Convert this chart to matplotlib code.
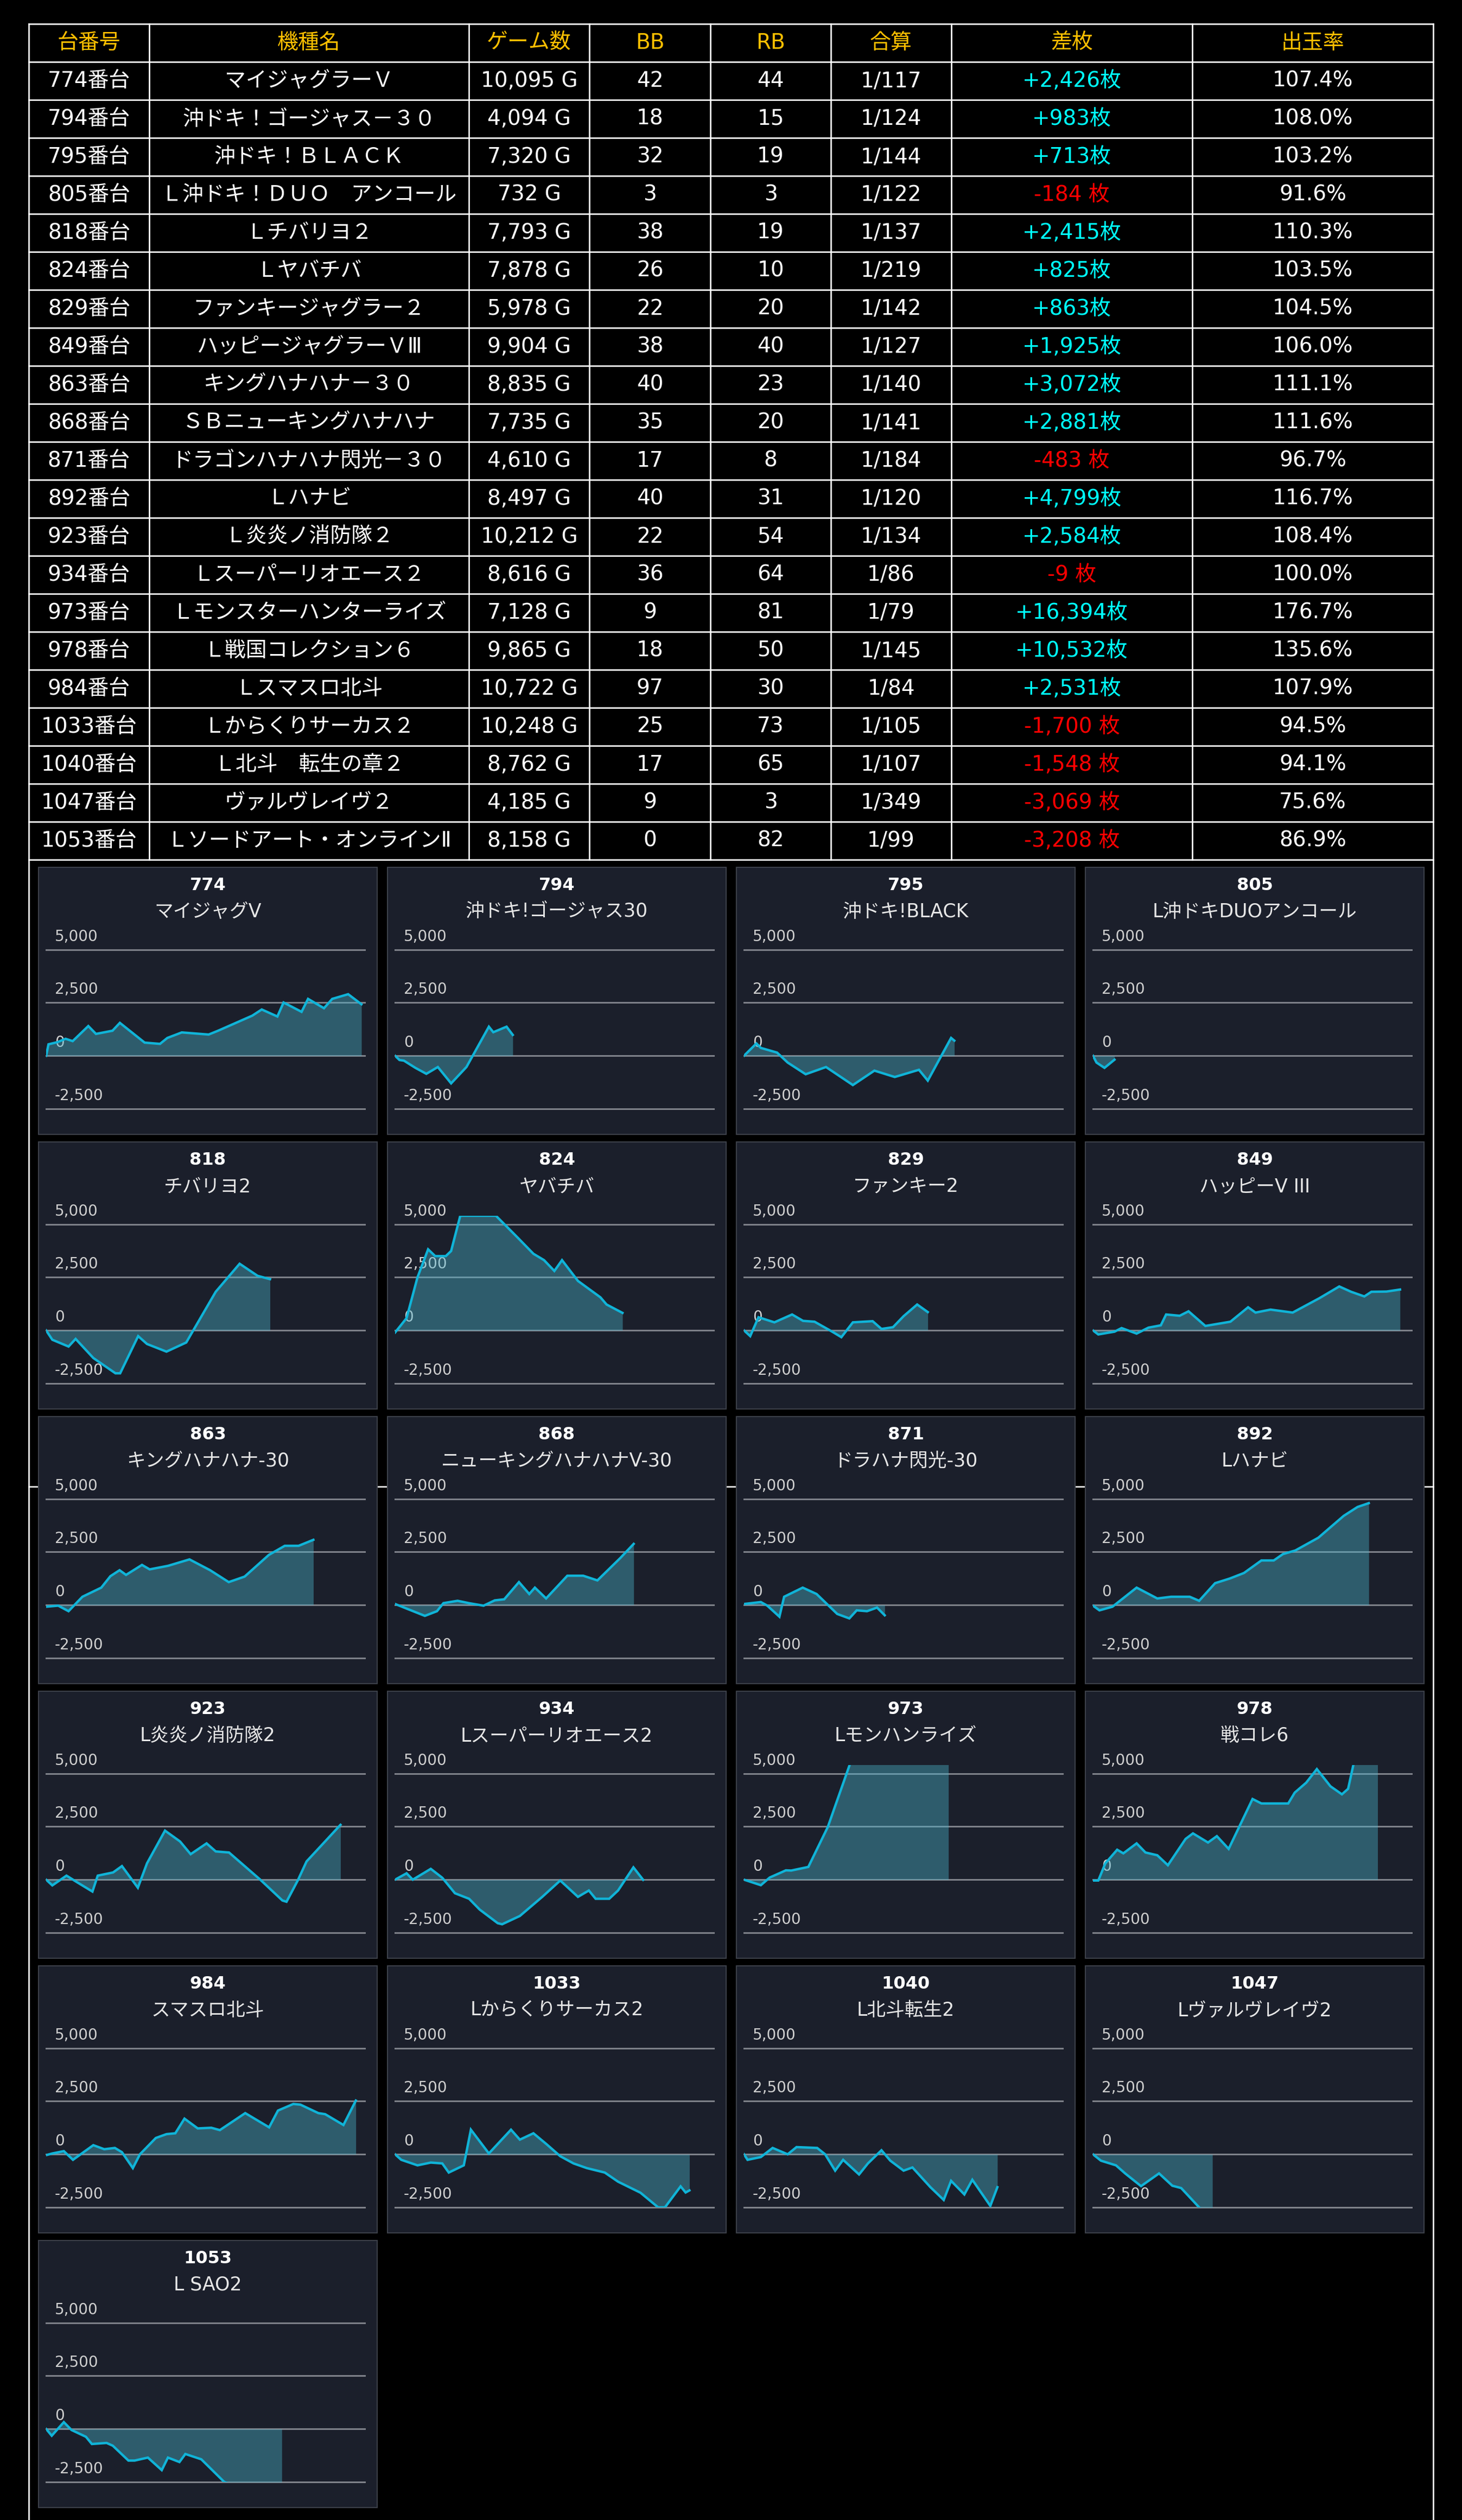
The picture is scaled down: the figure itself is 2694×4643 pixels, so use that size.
import matplotlib
matplotlib.use("Agg")
import matplotlib.pyplot as plt
from matplotlib.patches import Rectangle
from matplotlib.transforms import blended_transform_factory

# Latin text is DejaVu in the original, Japanese falls back to Noto CJK
plt.rcParams['font.family'] = ['DejaVu Sans', 'Noto Sans CJK JP']

# table data
headers = ['台番号', '機種名', 'ゲーム数', 'BB', 'RB', '合算', '差枚', '出玉率']
machine_no = [774, 794, 795, 805, 818, 824, 829, 849, 863, 868, 871,
              892, 923, 934, 973, 978, 984, 1033, 1040, 1047, 1053]
machine_names = ['マイジャグラーＶ', '沖ドキ！ゴージャス－３０', '沖ドキ！ＢＬＡＣＫ',
                 'Ｌ沖ドキ！ＤＵＯ　アンコール', 'Ｌチバリヨ２', 'Ｌヤバチバ',
                 'ファンキージャグラー２', 'ハッピージャグラーＶⅢ', 'キングハナハナ－３０',
                 'ＳＢニューキングハナハナ', 'ドラゴンハナハナ閃光－３０', 'Ｌハナビ',
                 'Ｌ炎炎ノ消防隊２', 'Ｌスーパーリオエース２', 'Ｌモンスターハンターライズ',
                 'Ｌ戦国コレクション６', 'Ｌスマスロ北斗', 'Ｌからくりサーカス２',
                 'Ｌ北斗　転生の章２', 'ヴァルヴレイヴ２', 'Ｌソードアート・オンラインⅡ']
games = [10095, 4094, 7320, 732, 7793, 7878, 5978, 9904, 8835, 7735, 4610,
         8497, 10212, 8616, 7128, 9865, 10722, 10248, 8762, 4185, 8158]
bb = [42, 18, 32, 3, 38, 26, 22, 38, 40, 35, 17, 40, 22, 36, 9, 18, 97, 25, 17, 9, 0]
rb = [44, 15, 19, 3, 19, 10, 20, 40, 23, 20, 8, 31, 54, 64, 81, 50, 30, 73, 65, 3, 82]
combined = [117, 124, 144, 122, 137, 219, 142, 127, 140, 141, 184,
            120, 134, 86, 79, 145, 84, 105, 107, 349, 99]
diff = [2426, 983, 713, -184, 2415, 825, 863, 1925, 3072, 2881, -483,
        4799, 2584, -9, 16394, 10532, 2531, -1700, -1548, -3069, -3208]
payout = [107.4, 108.0, 103.2, 91.6, 110.3, 103.5, 104.5, 106.0, 111.1, 111.6, 96.7,
          116.7, 108.4, 100.0, 176.7, 135.6, 107.9, 94.5, 94.1, 75.6, 86.9]

# graph data: (game, diff)
short_names = ['マイジャグV', '沖ドキ!ゴージャス30', '沖ドキ!BLACK', 'L沖ドキDUOアンコール',
               'チバリヨ2', 'ヤバチバ', 'ファンキー2', 'ハッピーV III',
               'キングハナハナ-30', 'ニューキングハナハナV-30', 'ドラハナ閃光-30', 'Lハナビ',
               'L炎炎ノ消防隊2', 'Lスーパーリオエース2', 'Lモンハンライズ', '戦コレ6',
               'スマスロ北斗', 'Lからくりサーカス2', 'L北斗転生2', 'Lヴァルヴレイヴ2', 'L SAO2']

c774 = [(0, 0), (80, 540), (380, 640), (660, 800), (900, 690), (1430, 1400), (1690, 1030),
        (2250, 1180), (2500, 1550), (3340, 620), (3860, 560), (4110, 840), (4600, 1100),
        (5510, 1000), (5830, 1180), (6990, 1890), (7310, 2180), (7840, 1850), (8050, 2510),
        (8660, 2070), (8880, 2680), (9420, 2240), (9700, 2680), (10240, 2900), (10690, 2426)]
c794 = [(0, 0), (150, -200), (300, -230), (690, -570), (1060, -850), (1450, -530),
        (1900, -1300), (2420, -530), (3180, 1370), (3330, 1110), (3780, 1370), (3990, 983)]
c795 = [(0, 0), (420, 580), (570, 370), (1120, 150), (1480, -320), (2090, -870), (2780, -530),
        (3690, -1380), (4420, -700), (5110, -1000), (5930, -660), (6230, -1170), (7020, 840),
        (7130, 713)]
c805 = [(0, 0), (120, -320), (390, -570), (730, -184)]
c818 = [(0, 0), (210, -440), (760, -760), (1000, -400), (1600, -1300), (2350, -2020),
        (2510, -2020), (3120, -270), (3420, -640), (4080, -1000), (4750, -570), (5750, 1820),
        (6560, 3140), (7170, 2570), (7590, 2415)]
c824 = [(0, -100), (390, 580), (760, 2500), (1120, 3820), (1360, 3500), (1720, 3500),
        (1900, 3740), (2210, 5400), (2800, 5400), (3420, 5400), (4150, 4380), (4690, 3610),
        (5050, 3310), (5400, 2800), (5660, 3310), (6200, 2330), (6960, 1560), (7170, 1220),
        (7710, 825)]
c829 = [(0, 0), (210, -270), (490, 620), (1030, 380), (1630, 750), (2000, 450), (2390, 410),
        (2990, -60), (3300, -320), (3690, 380), (4360, 435), (4660, 70), (5050, 150),
        (5410, 670), (5870, 1220), (6230, 863)]
c849 = [(0, 0), (180, -190), (730, -60), (970, 110), (1480, -150), (1880, 130), (2300, 240),
        (2480, 750), (2940, 690), (3240, 900), (3810, 210), (4660, 410), (5260, 1090),
        (5510, 840), (6020, 980), (6770, 840), (7680, 1520), (8350, 2070), (8750, 1820),
        (9200, 1600), (9440, 1820), (9950, 1830), (10410, 1925)]
c863 = [(0, -80), (410, -30), (760, -290), (1230, 390), (1870, 820), (2180, 1360),
        (2490, 1640), (2710, 1420), (3250, 1890), (3510, 1680), (4140, 1850), (4860, 2150),
        (5560, 1640), (6190, 1080), (6730, 1340), (7550, 2360), (8090, 2790), (8560, 2790),
        (9060, 3072)]
c868 = [(0, 50), (540, -250), (1010, -510), (1420, -290), (1640, 90), (2120, 200), (2500, 90),
        (3000, -30), (3380, 220), (3700, 270), (4200, 1080), (4550, 520), (4740, 820),
        (5120, 310), (5840, 1380), (6380, 1380), (6860, 1160), (7640, 2220), (8090, 2881)]
c871 = [(0, 50), (570, 140), (790, -30), (1200, -550), (1360, 390), (1990, 820), (2460, 520),
        (3160, -420), (3570, -630), (3820, -250), (4170, -290), (4510, -120), (4770, -483)]
c892 = [(0, -30), (220, -250), (660, -80), (1480, 820), (2180, 310), (2650, 390), (3280, 390),
        (3600, 200), (4140, 1030), (4640, 1250), (5120, 1510), (5710, 2100), (6130, 2100),
        (6440, 2400), (6860, 2570), (7640, 3170), (8500, 4200), (8970, 4620), (9350, 4799)]
c923 = [(0, 0), (210, -270), (690, 190), (1060, -130), (1570, -560), (1750, 190), (2270, 340),
        (2570, 640), (3110, -380), (3420, 770), (4030, 2310), (4540, 1800), (4900, 1200),
        (5440, 1710), (5750, 1330), (6200, 1280), (7260, 0), (8010, -980), (8150, -1040),
        (8530, -40), (8830, 860), (9980, 2584)]
c934 = [(0, 0), (390, 300), (600, 0), (1210, 510), (1600, 90), (2030, -640), (2510, -900),
        (2870, -1410), (3480, -2050), (3630, -2100), (4230, -1710), (4990, -810), (5600, -40),
        (6200, -810), (6570, -510), (6800, -900), (7260, -900), (7560, -510), (8080, 580),
        (8410, -9)]
c973 = [(0, 0), (570, -260), (870, 100), (1420, 440), (1600, 430), (2180, 600), (2840, 2480),
        (3630, 5600), (4500, 8000), (5500, 11000), (6200, 13500), (6930, 16394)]
c978 = [(0, -40), (180, -40), (420, 770), (820, 1410), (1030, 1240), (1480, 1710),
        (1780, 1280), (2180, 1150), (2540, 680), (3140, 1920), (3390, 2180), (3900, 1750),
        (4200, 2050), (4600, 1450), (5410, 3800), (5710, 3590), (6620, 3590), (6840, 4100),
        (7230, 4570), (7590, 5210), (8050, 4400), (8440, 4020), (8650, 4280), (9000, 6500),
        (9650, 10532)]
c984 = [(0, -40), (210, 40), (600, 150), (910, -260), (1600, 430), (1970, 240), (2330, 300),
        (2570, 100), (2940, -650), (3180, 0), (3720, 770), (4080, 950), (4380, 990),
        (4690, 1680), (5140, 1220), (5600, 1250), (5890, 1140), (6750, 1940), (7560, 1270),
        (7860, 2060), (8380, 2370), (8620, 2340), (9230, 1940), (9460, 1890), (10080, 1380),
        (10500, 2531)]
c1033 = [(0, 0), (210, -260), (760, -520), (1210, -390), (1600, -430), (1820, -860),
         (2330, -520), (2570, 1160), (3180, 40), (3930, 1160), (4230, 690), (4690, 990),
         (5140, 470), (5600, -90), (6050, -430), (6500, -650), (7110, -860), (7560, -1290),
         (8320, -1810), (8920, -2500), (9150, -2500), (9680, -1510), (9850, -1800),
         (9980, -1700)]
c1040 = [(0, 0), (120, -260), (570, -130), (970, 300), (1480, 0), (1780, 340), (2480, 300),
         (2750, 0), (3090, -770), (3360, -260), (3900, -950), (4200, -430), (4660, 190),
         (4960, -300), (5410, -770), (5710, -620), (6320, -1550), (6770, -2150), (7020, -1250),
         (7470, -1890), (7740, -1200), (8350, -2430), (8590, -1548)]
c1047 = [(0, 0), (270, -300), (570, -430), (780, -520), (1090, -900), (1630, -1500),
         (2240, -900), (2690, -1480), (2990, -1590), (3600, -2500), (4050, -3069)]
c1053 = [(0, 0), (190, -320), (600, 320), (860, -50), (1350, -370), (1550, -710), (2050, -660),
         (2260, -790), (2790, -1490), (3000, -1490), (3450, -1350), (3920, -1940), (4130, -1350),
         (4520, -1560), (4720, -1180), (5260, -1430), (6040, -2500), (7000, -2950),
         (7990, -3208)]

curves = [c774, c794, c795, c805, c818, c824, c829, c849, c863, c868, c871,
          c892, c923, c934, c973, c978, c984, c1033, c1040, c1047, c1053]
y_ticks = [-2500, 0, 2500, 5000]


W, H = 2694, 4643
fig = plt.figure(figsize=(W / 100, H / 100), dpi=100)
fig.patch.set_facecolor('black')
bg = fig.add_axes([0, 0, 1, 1])
bg.set_xlim(0, W)
bg.set_ylim(H, 0)
bg.axis('off')

# ---- table ----
col_edges = [53, 275, 864, 1086, 1309, 1531, 1753, 2197, 2641]
top, row_h = 44, 70
n_rows = len(machine_no) + 1
bottom = top + row_h * n_rows
lw_tab = 1.9
for i in range(n_rows + 1):
    bg.plot([col_edges[0], col_edges[-1]], [top + i * row_h] * 2, color='white', lw=lw_tab)
for j, x in enumerate(col_edges):
    y_end = H if j in (0, len(col_edges) - 1) else bottom
    bg.plot([x, x], [top, y_end], color='white', lw=lw_tab)
# stray white line behind the charts
bg.plot([col_edges[0], col_edges[-1]], [2739, 2739], color='white', lw=1.8, zorder=0)

fs = 28
centers = [(col_edges[k] + col_edges[k + 1]) / 2 for k in range(len(col_edges) - 1)]
for k, h in enumerate(headers):
    bg.text(centers[k], top + row_h / 2, h, color='#ffc000', fontsize=fs, ha='center', va='center')

for r in range(len(machine_no)):
    yc = top + row_h * (r + 1.5)
    d = diff[r]
    d_txt = f'+{d:,}枚' if d > 0 else f'{d:,} 枚'
    cells = [f'{machine_no[r]}番台', machine_names[r], f'{games[r]:,} G', str(bb[r]), str(rb[r]),
             f'1/{combined[r]}', d_txt, f'{payout[r]:.1f}%']
    for k, t in enumerate(cells):
        col = 'white'
        if k == 6:
            col = '#00ffff' if d > 0 else '#ff0000'
        bg.text(centers[k], yc, t, color=col, fontsize=fs, ha='center', va='center')

# ---- small charts ----
panel_x = [71, 714, 1357, 2000]
panel_y0, panel_pitch = 1598, 506
pw, ph = 624, 492
for i, pts in enumerate(curves):
    px = panel_x[i % 4]
    py = panel_y0 + panel_pitch * (i // 4)
    bg.add_patch(Rectangle((px, py), pw, ph, facecolor='#1b1f2b', edgecolor='#3c4049',
                           lw=1.5, zorder=2))
    bg.text(px + pw / 2, py + 34, str(machine_no[i]), color='white', fontsize=23,
            fontweight='bold', ha='center', va='center', zorder=3)
    bg.text(px + pw / 2, py + 82, short_names[i], color='#e6e6e6', fontsize=25,
            ha='center', va='center', zorder=3)

    ax_l, ax_r = px + 14, px + 601
    ax_t, ax_b = py + 136, py + 445
    ax = fig.add_axes([ax_l / W, 1 - ax_b / H, (ax_r - ax_l) / W, (ax_b - ax_t) / H])
    ax.set_facecolor('none')
    ax.axis('off')
    ax.set_xlim(0, 10800)
    ax.set_ylim(-2500, 5400)
    tr = blended_transform_factory(ax.transAxes, ax.transData)
    for v in y_ticks:
        ax.axhline(v, color='#7e8189', lw=2.2, zorder=1, clip_on=False)
        ax.annotate(f'{v:,}', xy=(0, v), xycoords=tr, xytext=(16, 10),
                    textcoords='offset pixels', color='#cfcfcf', fontsize=20,
                    ha='left', va='bottom', zorder=1, annotation_clip=False)
    xs = [p[0] for p in pts]
    ys = [p[1] for p in pts]
    ax.fill_between(xs, ys, 0, color='#4bb8d0', alpha=0.4, lw=0, zorder=2)
    ax.plot(xs, ys, color='#10b4d8', lw=3.2, zorder=3, solid_joinstyle='miter')

fig.savefig('out.png', dpi=100, facecolor='black')
